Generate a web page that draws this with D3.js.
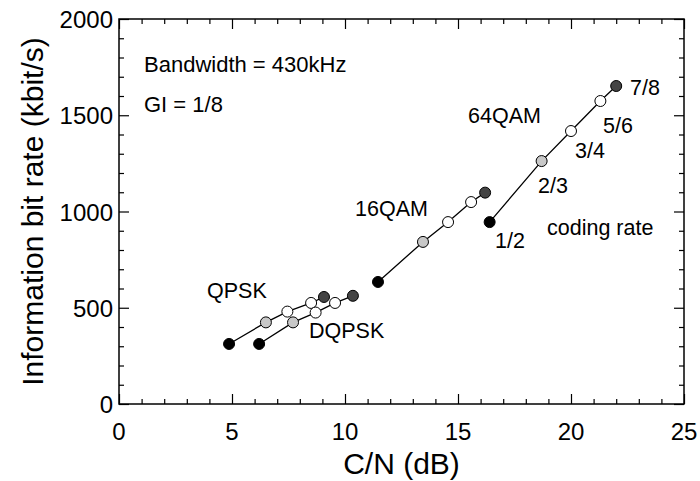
<!DOCTYPE html>
<html><head><meta charset="utf-8">
<script src="https://cdn.jsdelivr.net/npm/d3@7"></script>
<style>body{margin:0;background:#fff}svg{display:block}text{font-family:"Liberation Sans",Arial,sans-serif;fill:#000}</style>
</head><body>
<script>
const rates = ["1/2","2/3","3/4","5/6","7/8"];
const qpskX = [4.87, 6.5, 7.45, 8.5, 9.07];
const qpskY = [312, 424, 480, 525, 556];
const dqpskX = [6.2, 7.7, 8.7, 9.56, 10.35];
const dqpskY = [312, 424, 475, 525, 562];
const qam16X = [11.46, 13.45, 14.56, 15.58, 16.2];
const qam16Y = [634, 842, 945, 1049, 1098];
const qam64X = [16.4, 18.7, 20.0, 21.3, 22.0];
const qam64Y = [945, 1262, 1418, 1574, 1652];
const xTicks = [0,5,10,15,20,25];
const yTicks = [0,500,1000,1500,2000];
const rateFill = {"1/2":"#000","2/3":"#c8c8c8","3/4":"#fff","5/6":"#fff","7/8":"#444"};

const W=700,H=481;
const svg=d3.select("body").append("svg").attr("width",W).attr("height",H);
const x=d3.scaleLinear().domain([0,25]).range([119,684]);
const y=d3.scaleLinear().domain([0,2000]).range([404,19]);

svg.append("rect").attr("x",x(0)).attr("y",y(2000)).attr("width",x(25)-x(0)).attr("height",y(0)-y(2000))
  .attr("fill","none").attr("stroke","#000").attr("stroke-width",1.5);

function axis(gen, tr, minor, size){
  const g=svg.append("g").attr("transform",tr).call(gen.tickValues(minor).tickSize(size).tickFormat(()=>""));
  g.select(".domain").remove();
  g.selectAll("line").attr("stroke","#000").attr("stroke-width",1.2);
  return g;
}
const xMinor=d3.range(0,26,1), yMinor=d3.range(0,2001,100);
let gb=axis(d3.axisBottom(x),`translate(0,${y(0)})`,xMinor,-5);
gb.selectAll("line").filter(d=>d%5===0).attr("y2",-10);
let gt=axis(d3.axisTop(x),`translate(0,${y(2000)})`,xMinor,-5);
gt.selectAll("line").filter(d=>d%5===0).attr("y2",10);
let gl=axis(d3.axisLeft(y),`translate(${x(0)},0)`,yMinor,-5);
gl.selectAll("line").filter(d=>d%500===0).attr("x2",10);
let gr=axis(d3.axisRight(y),`translate(${x(25)},0)`,yMinor,-5);
gr.selectAll("line").filter(d=>d%500===0).attr("x2",-10);

svg.append("g").selectAll("text").data(xTicks).join("text")
  .attr("x",d=>x(d)).attr("y",y(0)+36).attr("text-anchor","middle").attr("font-size",24).text(d=>d);
svg.append("g").selectAll("text").data(yTicks).join("text")
  .attr("x",x(0)-6).attr("y",d=>y(d)+9).attr("text-anchor","end").attr("font-size",24).text(d=>d);

svg.append("text").attr("x",(x(0)+x(25))/2).attr("y",474).attr("text-anchor","middle").attr("font-size",30).text("C/N (dB)");
svg.append("text").attr("transform",`translate(43,${(y(0)+y(2000))/2}) rotate(-90)`).attr("text-anchor","middle").attr("font-size",30).text("Information bit rate (kbit/s)");

const series=[[qpskX,qpskY],[dqpskX,dqpskY],[qam16X,qam16Y],[qam64X,qam64Y]];
const line=d3.line().x(d=>x(d.x)).y(d=>y(d.y));
series.forEach(([xs,ys])=>{
  const pts=xs.map((v,i)=>({x:v,y:ys[i],r:rates[i]}));
  svg.append("path").attr("d",line(pts)).attr("fill","none").attr("stroke","#000").attr("stroke-width",1.3);
  svg.append("g").selectAll("circle").data(pts).join("circle")
    .attr("cx",d=>x(d.x)).attr("cy",d=>y(d.y)).attr("r",5.5)
    .attr("fill",d=>rateFill[d.r]).attr("stroke","#000").attr("stroke-width",1);
});

const ann=[
  ["Bandwidth = 430kHz",144,72,22],["GI = 1/8",144,112,22],
  ["64QAM",468,123,21.5],["16QAM",355,216,21.5],["QPSK",207,298,21.5],["DQPSK",309,338,21.5],
  ["1/2",495,248,21.5],["coding rate",547,235,21.5],["2/3",538,193,21.5],["3/4",575,158,21.5],["5/6",603,133,21.5],["7/8",630,95,21.5]
];
svg.append("g").selectAll("text").data(ann).join("text")
  .attr("x",d=>d[1]).attr("y",d=>d[2]).attr("font-size",d=>d[3]).text(d=>d[0]);
</script>
</body></html>
